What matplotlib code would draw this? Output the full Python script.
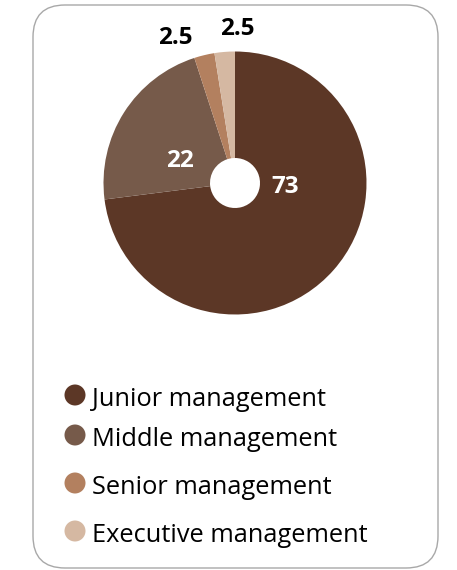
import matplotlib
matplotlib.use("Agg")
import matplotlib.pyplot as plt
from matplotlib.patches import FancyBboxPatch, Circle

categories = ["Junior management", "Middle management", "Senior management", "Executive management"]
values = [73, 22, 2.5, 2.5]
value_labels = ["73", "22", "2.5", "2.5"]
colors = ["#5C3726", "#765A4A", "#B3805F", "#D5B8A2"]

W, H = 457, 570
fig = plt.figure(figsize=(W / 100, H / 100), dpi=100)
fig.patch.set_facecolor("white")

# background axes in pixel coords
bg = fig.add_axes([0, 0, 1, 1])
bg.set_xlim(0, W)
bg.set_ylim(H, 0)
bg.axis("off")
box = FancyBboxPatch((33, 5), 405, 563, boxstyle="round,pad=0,rounding_size=32",
                     facecolor="white", edgecolor="#A8A8A8", linewidth=1.0)
bg.add_patch(box)

# pie axes
cx, cy, R = 235, 183, 131.5
ax = fig.add_axes([(cx - R) / W, 1 - (cy + R) / H, 2 * R / W, 2 * R / H])
wedges, _ = ax.pie(values, colors=colors, startangle=90, counterclock=False,
                   radius=1.0, wedgeprops=dict(width=1 - 25 / R, edgecolor="none"))
ax.set_xlim(-1, 1)
ax.set_ylim(-1, 1)
ax.set_aspect("equal")

label_offsets = [(50, -4), (-55, 22), (-60, 145), (2, 154)]
label_colors = ["white", "white", "black", "black"]
for lab, (dx, dy), c in zip(value_labels, label_offsets, label_colors):
    ax.text(dx / R, dy / R, lab, ha="center", va="center", color=c,
            fontsize=17.5, fontweight="bold", family="Open Sans")

# legend
leg_y = [395, 435, 483, 531]
for cat, col, y in zip(categories, colors, leg_y):
    bg.add_patch(Circle((75, y), 10.5, facecolor=col, edgecolor="none"))
    bg.text(92, y + 11, cat, ha="left", va="baseline", fontsize=18.3, family="Open Sans", color="black")

fig.savefig("out.png", dpi=100)
